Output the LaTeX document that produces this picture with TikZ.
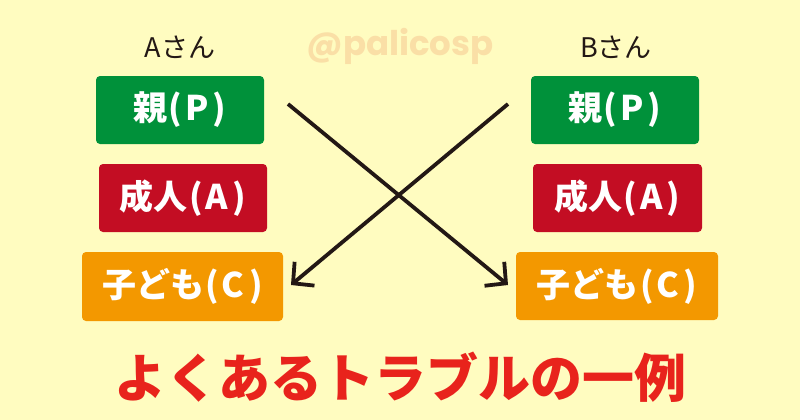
\documentclass[tikz,border=0pt]{standalone}
\usepackage{fontspec}
\usetikzlibrary{arrows.meta}
\newfontfamily\jp{Noto Sans CJK JP}
\newfontfamily\popfont{Poppins}
\definecolor{bgyellow}{HTML}{FFFCC0}
\definecolor{pgreen}{HTML}{00913A}
\definecolor{ared}{HTML}{C30D23}
\definecolor{corange}{HTML}{F39800}
\definecolor{titlered}{HTML}{E8231C}
\definecolor{wmark}{HTML}{FADFA6}
\definecolor{arrowink}{HTML}{231815}
\newcommand\myopen{\hspace{1.5pt}(\hspace{2.5pt}}
\newcommand\myclose{\hspace{4.5pt})}
\tikzset{
  rolebox/.style={rounded corners=4pt, inner sep=0pt, text=white,
    font=\jp\bfseries\fontsize{34}{36}\selectfont, align=center},
  person/.style={inner sep=0pt, text=arrowink, font=\jp\fontsize{27}{30}\selectfont},
  cross/.style={draw=arrowink, line width=3.8pt,
    -{Straight Barb[length=15pt,width=31pt,line width=3.8pt]}}
}
\begin{document}
\begin{tikzpicture}[x=1pt,y=-1pt]
\fill[bgyellow] (0,0) rectangle (800,420);
\useasboundingbox (0,0) rectangle (800,420);
% watermark
\node[inner sep=0pt, text=wmark, font=\popfont\bfseries\fontsize{34}{36}\selectfont] (wm) at (400,46) {@palicosp};
% labels
\node[person] (la) at (180,47) {Aさん};
\node[person] (lb) at (616,47) {Bさん};
% left boxes
\node[rolebox, fill=pgreen, minimum width=168pt, minimum height=68pt] (ap) at (180,110) {親\myopen P\myclose};
\node[rolebox, fill=ared, minimum width=168pt, minimum height=68pt] (aa) at (183,198) {成人\myopen A\myclose};
\node[rolebox, fill=corange, minimum width=201pt, minimum height=69pt] (ac) at (182.5,286.5) {子ども\myopen C\myclose};
% right boxes
\node[rolebox, fill=pgreen, minimum width=168pt, minimum height=68pt] (bp) at (615,110) {親\myopen P\myclose};
\node[rolebox, fill=ared, minimum width=169pt, minimum height=68pt] (ba) at (617.5,198) {成人\myopen A\myclose};
\node[rolebox, fill=corange, minimum width=202pt, minimum height=68pt] (bc) at (617,286) {子ども\myopen C\myclose};
% arrows
\coordinate (s1) at (288,104);
\coordinate (e1) at (508,285);
\coordinate (s2) at (508,104);
\coordinate (e2) at (291,285);
\draw[cross] (s1) -- (e1);
\draw[cross] (s2) -- (e2);
% title
\node[inner sep=0pt, text=titlered, font=\jp\bfseries\fontsize{52}{56}\selectfont] (title) at (400,377) {よくあるトラブルの一例};
\end{tikzpicture}
\end{document}
